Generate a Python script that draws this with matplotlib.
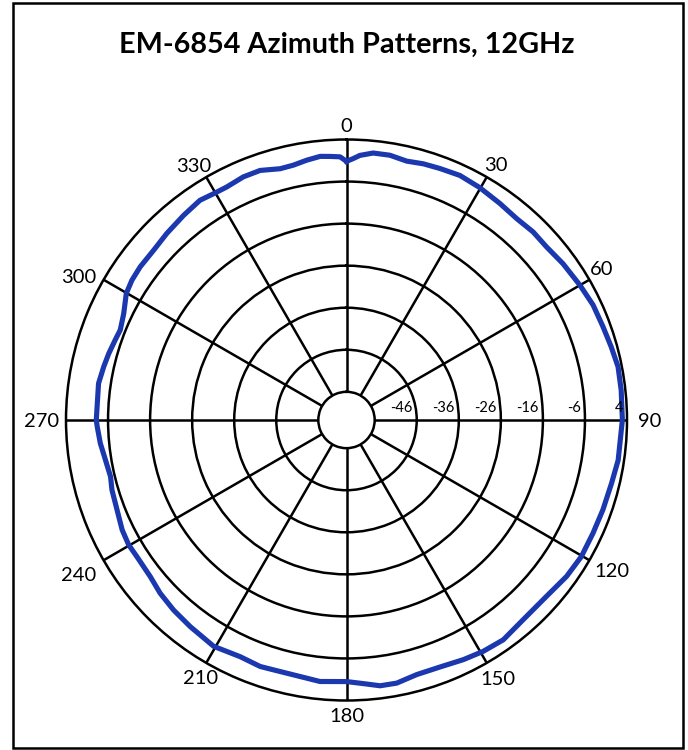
import numpy as np
import matplotlib
matplotlib.use("Agg")
import matplotlib.pyplot as plt
from matplotlib.patches import Rectangle
from matplotlib.transforms import offset_copy

plt.rcParams['font.family'] = ['Lato', 'DejaVu Sans']

title = "EM-6854 Azimuth Patterns, 12GHz"

# azimuth angle (degrees) and gain (dB)
angle_deg = [0.0, 1.5, 2.9, 5.7, 9.3, 13.1, 16.7, 20.4, 24.9, 29.8, 35.3, 40.2, 44.8,
             49.1, 54.2, 60.0, 65.0, 70.0, 74.5, 78.9, 83.8, 90.0, 98.4, 103.4,
             109.3, 114.7, 120.2, 125.4, 131.4, 138.5, 144.5, 149.4, 154.0, 159.3,
             164.6, 169.2, 172.8, 176.4, 180.0, 185.8, 191.8, 196.3, 199.3, 204.2,
             210.4, 217.1, 222.3, 227.1, 231.4, 236.9, 240.2, 243.9, 248.6, 253.4,
             256.5, 260.6, 264.6, 268.5, 270.0, 278.4, 282.4, 285.6, 289.1, 291.7,
             295.5, 299.9, 303.1, 306.6, 311.4, 316.1, 321.5, 326.3, 329.6, 332.8,
             337.0, 340.9, 345.2, 348.2, 351.3, 354.3, 356.4, 358.6, 360.0]
gain_db = [-1.2, -0.5, 0.3, 1.1, 1.1, 0.5, 0.9, 1.1, 1.4, 1.0, 0.4, 0.0, 0.3,
           0.2, 0.8, 1.4, 2.0, 2.2, 2.6, 3.1, 3.0, 2.9, 2.6, 2.1,
           1.9, 1.8, 1.9, 1.5, 0.7, 0.7, 1.5, 1.2, 0.7, 0.1,
           0.1, 1.0, 1.0, 0.1, -0.5, -0.2, -0.8, -0.8, -0.6, -1.0,
           -0.3, -1.1, -1.6, -2.2, -3.0, -3.2, -3.0, -3.3, -4.1, -4.5,
           -5.0, -4.6, -3.9, -3.4, -3.2, -3.1, -3.6, -4.0, -4.5, -4.8,
           -4.0, -2.3, -1.8, -1.6, -1.6, -1.1, -0.5, 0.1, -0.3, -0.4,
           0.1, 0.1, -0.9, -0.8, -0.2, 0.3, 0.1, -0.1, -1.2]

theta_ticks = [0, 30, 60, 90, 120, 150, 180, 210, 240, 270, 300, 330]
theta_labels = ["0", "30", "60", "90", "120", "150", "180", "210", "240", "270", "300", "330"]
r_ticks = [-46, -36, -26, -16, -6, 4]
r_labels = ["-46", "-36", "-26", "-16", "-6", "4"]

# style: pixel offsets of each angle label centre from the end of its spoke
theta_label_offsets = {0: (0, 14.5), 30: (9, 13.5), 60: (12, 11.5), 90: (22.5, 0),
                       120: (22.5, -9.5), 150: (11, -15), 180: (0, -14.5),
                       210: (-5.5, -14), 240: (-24.5, -13.5), 270: (-24.5, 0),
                       300: (-24.5, 4), 330: (-12, 12.5)}

W, H = 688, 750
fig = plt.figure(figsize=(W / 100, H / 100), dpi=100)

# frame
fig.patches.append(Rectangle((13 / W, 2 / H), 670 / W, 745 / H, transform=fig.transFigure,
                             fill=False, edgecolor='black', linewidth=1.8))

fig.text(347 / W, 1 - 45 / H, title, ha='center', va='center', fontsize=20.7,
         fontweight='bold', color='black')

cx, cy, R = 346.5, 420, 280.5
ax = fig.add_axes([(cx - R) / W, (H - cy - R) / H, 2 * R / W, 2 * R / H], projection='polar')
ax.set_theta_zero_location('N')
ax.set_theta_direction(-1)
ax.set_rlim(-56, 4)
ax.set_rorigin(-62.7)

ax.set_thetagrids(theta_ticks, [""] * len(theta_ticks))
ax.set_rticks(r_ticks[:-1])
ax.set_yticklabels([])
ax.grid(True, color='black', linewidth=1.8)
for sp in ax.spines.values():
    sp.set_color('black')
    sp.set_linewidth(1.8)

th = np.deg2rad(angle_deg)
ax.plot(th, gain_db, color='#1b38ae', linewidth=3.7, solid_joinstyle='round', zorder=5)

for t, lab in zip(theta_ticks, theta_labels):
    dx, dy = theta_label_offsets[t]
    tr = offset_copy(ax.transData, fig=fig, x=dx, y=dy, units='dots')
    ax.text(np.deg2rad(t), r_ticks[-1], lab, transform=tr, ha='center', va='center_baseline',
            fontsize=14.5, color='black', clip_on=False)

for v, lab in zip(r_ticks, r_labels):
    tr = offset_copy(ax.transData, fig=fig, x=-4, y=5, units='dots')
    ax.text(np.pi / 2, v, lab, transform=tr, ha='right', va='bottom',
            fontsize=10.5, color='black', zorder=6, clip_on=False)

fig.savefig("out.png", dpi=100)
